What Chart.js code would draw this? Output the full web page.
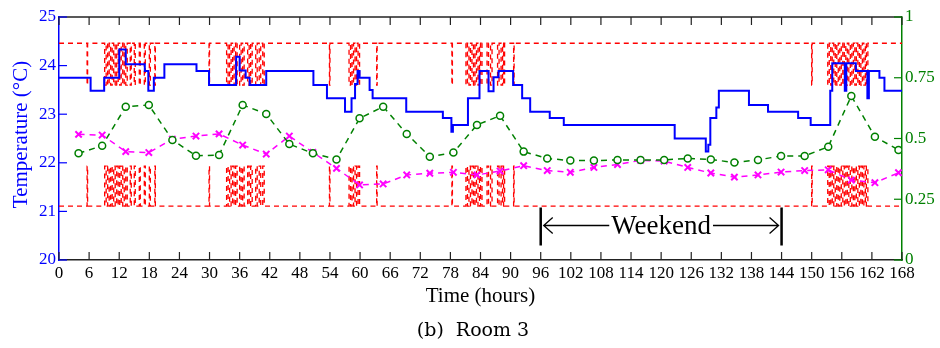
<!DOCTYPE html>
<html>
<head>
<meta charset="utf-8">
<script src="https://cdn.jsdelivr.net/npm/chart.js@4/dist/chart.umd.min.js"></script>
<style>
html, body { margin: 0; padding: 0; background: #fff; }
#wrap { width: 940px; height: 348px; }
</style>
</head>
<body>
<div id="wrap"><canvas id="chart_room3" width="940" height="348"></canvas></div>
<script>
// hours at which the comfort band switches to the tight (occupied) limits and back
var occStart = [5.6, 9.1, 9.7, 10.3, 10.9, 11.5, 12.1, 12.7, 13.3, 14.2, 15.0, 16.0, 17.0, 18.0, 19.1,
    29.9, 33.4, 34.0, 34.6, 35.2, 36.0, 36.6, 37.6, 38.2, 39.2, 39.9, 40.6,
    53.9, 57.8, 58.4, 59.0, 59.6, 63.3,
    78.3, 81.1, 81.7, 82.3, 82.9, 83.5, 84.0, 85.3, 86.0, 87.4, 88.1, 88.6, 90.6,
    150.0, 153.2, 153.8, 154.4, 155.0, 155.6, 156.2, 156.8, 157.4, 158.0, 158.6, 159.2, 159.8, 160.4, 160.9];
var occEnd = [5.7, 9.4, 10.0, 10.6, 11.2, 11.8, 12.4, 13.0, 13.6, 14.4, 15.2, 16.2, 17.2, 18.2, 19.2,
    30.0, 33.7, 34.3, 34.9, 35.5, 36.3, 36.9, 37.9, 38.5, 39.5, 40.2, 40.9,
    54.0, 58.1, 58.7, 59.3, 59.9, 63.4,
    78.4, 81.4, 82.0, 82.6, 83.2, 83.8, 84.3, 85.6, 86.3, 87.7, 88.4, 88.8, 90.7,
    150.1, 153.5, 154.1, 154.7, 155.3, 155.9, 156.5, 157.1, 157.7, 158.3, 158.9, 159.5, 160.1, 160.7, 161.2];
var upperLimits = [24.46, 23.60];   // [unoccupied, occupied]
var lowerLimits = [21.11, 21.93];

// room temperature (stepped)
var tempHours = [0, 6.3, 9.0, 12.0, 13.3, 17.1, 17.8, 18.9, 21.0, 27.4, 29.9, 35.3, 36.0, 37.2, 38.0, 41.3,
    50.7, 53.4, 57.0, 58.3, 59.0, 59.5, 59.9, 61.9, 62.5, 69.2, 76.5, 78.2, 78.5, 81.5, 83.8, 85.6, 86.6, 87.6,
    90.5, 92.3, 93.9, 97.8, 100.6, 122.7, 128.9, 129.4, 129.8, 131.0, 131.5, 137.5, 141.3, 147.3, 149.8,
    153.7, 154.1, 156.6, 156.9, 158.8, 161.1, 161.4, 163.5, 164.5, 168];
var tempValues = [23.75, 23.48, 23.75, 24.33, 24.03, 23.89, 23.48, 23.75, 24.03, 23.89, 23.60, 24.18, 23.90, 23.75, 23.60, 23.89,
    23.60, 23.33, 23.05, 23.33, 23.62, 23.89, 23.75, 23.50, 23.33, 23.05, 22.92, 22.64, 22.78, 23.33, 23.89, 23.47, 23.76, 23.89,
    23.60, 23.33, 23.05, 22.92, 22.78, 22.50, 22.23, 22.37, 22.92, 23.14, 23.48, 23.19, 23.05, 22.92, 22.78,
    23.48, 24.05, 23.48, 24.05, 23.89, 23.33, 23.89, 23.75, 23.48, 23.48];

// sampled series on the right axis
var sampleHours = [3.9, 8.6, 13.3, 17.9, 22.6, 27.3, 31.9, 36.6, 41.3, 45.9, 50.6, 55.3, 59.9, 64.6, 69.3, 73.9,
    78.6, 83.3, 87.9, 92.6, 97.3, 101.9, 106.6, 111.3, 115.9, 120.6, 125.3, 129.9, 134.6, 139.3, 143.9, 148.6,
    153.3, 157.9, 162.6, 167.3];
var greenValues = [0.439, 0.470, 0.631, 0.638, 0.494, 0.429, 0.432, 0.638, 0.601, 0.477, 0.439, 0.414, 0.583, 0.631, 0.519, 0.425,
    0.442, 0.556, 0.594, 0.446, 0.418, 0.409, 0.409, 0.412, 0.412, 0.412, 0.418, 0.414, 0.401, 0.412, 0.428, 0.428,
    0.466, 0.675, 0.507, 0.453];
var magentaValues = [0.517, 0.514, 0.446, 0.442, 0.497, 0.510, 0.519, 0.473, 0.436, 0.510, 0.443, 0.377, 0.309, 0.313, 0.350, 0.357,
    0.361, 0.350, 0.366, 0.388, 0.368, 0.361, 0.381, 0.393, 0.410, 0.407, 0.381, 0.358, 0.341, 0.350, 0.362, 0.368,
    0.371, 0.329, 0.318, 0.359];

var rightTicks = [0, 0.25, 0.5, 0.75, 1];
var weekendHours = [96, 144];
var weekendLabel = 'Weekend';

function boundPoints(limits) {
    var pts = [{x: 0, y: limits[0]}];
    for (var i = 0; i < occStart.length; i++) {
        pts.push({x: occStart[i], y: limits[1]});
        pts.push({x: occEnd[i], y: limits[0]});
    }
    pts.push({x: 168, y: limits[0]});
    return pts;
}
function zipPoints(xs, ys) {
    return xs.map(function (x, i) { return {x: x, y: ys[i]}; });
}

var serif = '"Liberation Serif", "Times New Roman", serif';
var BLUE = '#0000ff', GREEN = '#008000', RED = '#ff0000', MAGENTA = '#ff00ff';

var chart_room3 = new Chart(document.getElementById('chart_room3'), {
    type: 'line',
    data: {
        datasets: [
            {
                label: 'Temperature',
                data: zipPoints(tempHours, tempValues),
                yAxisID: 'y',
                stepped: true,
                borderColor: BLUE,
                borderWidth: 2,
                pointRadius: 0,
                order: 0
            },
            {
                label: 'green',
                data: zipPoints(sampleHours, greenValues),
                yAxisID: 'y2',
                borderColor: GREEN,
                borderWidth: 1.5,
                borderDash: [6, 5],
                pointStyle: 'circle',
                pointRadius: 3.5,
                pointBorderWidth: 1.5,
                pointBorderColor: GREEN,
                pointBackgroundColor: '#fff',
                order: 1
            },
            {
                label: 'magenta',
                data: zipPoints(sampleHours, magentaValues),
                yAxisID: 'y2',
                borderColor: MAGENTA,
                borderWidth: 1.5,
                borderDash: [6, 5],
                pointStyle: 'crossRot',
                pointRadius: 4.5,
                pointBorderWidth: 2,
                pointBorderColor: MAGENTA,
                order: 1
            },
            {
                label: 'upper',
                data: boundPoints(upperLimits),
                yAxisID: 'y',
                stepped: true,
                borderColor: RED,
                borderWidth: 1.3,
                borderDash: [5, 4],
                pointRadius: 0,
                order: 2
            },
            {
                label: 'lower',
                data: boundPoints(lowerLimits),
                yAxisID: 'y',
                stepped: true,
                borderColor: RED,
                borderWidth: 1.3,
                borderDash: [5, 4],
                pointRadius: 0,
                order: 2
            }
        ]
    },
    options: {
        animation: false,
        responsive: false,
        layout: { padding: { top: 17, left: 0, right: 0, bottom: 0 } },
        plugins: {
            legend: { display: false },
            tooltip: { enabled: false },
            title: { display: false }
        },
        scales: {
            x: {
                type: 'linear',
                min: 0,
                max: 168,
                afterFit: function (s) { s.height = 88; },
                afterBuildTicks: function (s) {
                    var t = [];
                    for (var v = 0; v <= 168; v += 6) t.push({value: v});
                    s.ticks = t;
                },
                grid: { display: false, drawTicks: false },
                border: { display: true, color: '#222', width: 1.5 },
                ticks: {
                    autoSkip: false, maxRotation: 0, padding: 3, color: '#000',
                    font: { family: serif, size: 17 }
                }
            },
            y: {
                position: 'left',
                min: 20,
                max: 25,
                afterFit: function (s) { s.width = 59; },
                grid: { display: false, drawTicks: false },
                border: { display: true, color: BLUE, width: 1.5 },
                ticks: {
                    stepSize: 1, padding: 3, color: BLUE,
                    font: { family: serif, size: 17 }
                }
            },
            y2: {
                position: 'right',
                min: 0,
                max: 1,
                afterFit: function (s) { s.width = 38; },
                afterBuildTicks: function (s) {
                    s.ticks = rightTicks.map(function (v) { return {value: v}; });
                },
                grid: { display: false, drawTicks: false },
                border: { display: true, color: GREEN, width: 1.5 },
                ticks: {
                    padding: 3, color: GREEN,
                    font: { family: serif, size: 17 },
                    callback: function (v) { return String(v); }
                }
            }
        }
    },
    plugins: [{
        id: 'figureDecor',
        afterDraw: function (chart) {
            var ctx = chart.ctx, a = chart.chartArea;
            var sx = chart.scales.x, sy = chart.scales.y, sr = chart.scales.y2;
            ctx.save();
            // top frame line
            ctx.strokeStyle = '#222';
            ctx.lineWidth = 1.5;
            ctx.beginPath();
            ctx.moveTo(a.left, a.top);
            ctx.lineTo(a.right, a.top);
            ctx.stroke();
            // inward ticks, top and bottom
            ctx.lineWidth = 1.2;
            sx.ticks.forEach(function (t) {
                var px = sx.getPixelForValue(t.value);
                ctx.beginPath();
                ctx.moveTo(px, a.bottom); ctx.lineTo(px, a.bottom - 8);
                ctx.moveTo(px, a.top); ctx.lineTo(px, a.top + 8);
                ctx.stroke();
            });
            ctx.strokeStyle = BLUE;
            sy.ticks.forEach(function (t) {
                var py = sy.getPixelForValue(t.value);
                ctx.beginPath();
                ctx.moveTo(a.left, py); ctx.lineTo(a.left + 8, py);
                ctx.stroke();
            });
            ctx.strokeStyle = GREEN;
            sr.ticks.forEach(function (t) {
                var py = sr.getPixelForValue(t.value);
                ctx.beginPath();
                ctx.moveTo(a.right, py); ctx.lineTo(a.right - 8, py);
                ctx.stroke();
            });

            // weekend marker
            var x0 = sx.getPixelForValue(weekendHours[0]);
            var x1 = sx.getPixelForValue(weekendHours[1]);
            var yTop = sy.getPixelForValue(21.08), yBot = sy.getPixelForValue(20.3);
            var yMid = sy.getPixelForValue(20.71);
            ctx.strokeStyle = '#000';
            ctx.lineWidth = 2.5;
            ctx.beginPath();
            ctx.moveTo(x0, yTop); ctx.lineTo(x0, yBot);
            ctx.moveTo(x1, yTop); ctx.lineTo(x1, yBot);
            ctx.stroke();
            ctx.font = '27px ' + serif;
            ctx.fillStyle = '#000';
            ctx.textAlign = 'center';
            ctx.textBaseline = 'middle';
            var cx = (x0 + x1) / 2;
            ctx.fillText(weekendLabel, cx, yMid + 1);
            var half = ctx.measureText(weekendLabel).width / 2;
            ctx.lineWidth = 1.3;
            ctx.beginPath();
            ctx.moveTo(cx - half - 2, yMid); ctx.lineTo(x0 + 3, yMid);
            ctx.moveTo(x0 + 12, yMid - 8); ctx.lineTo(x0 + 3, yMid); ctx.lineTo(x0 + 12, yMid + 8);
            ctx.moveTo(cx + half + 2, yMid); ctx.lineTo(x1 - 3, yMid);
            ctx.moveTo(x1 - 12, yMid - 8); ctx.lineTo(x1 - 3, yMid); ctx.lineTo(x1 - 12, yMid + 8);
            ctx.stroke();

            // axis titles and caption
            ctx.font = '21px ' + serif;
            ctx.fillText('Time (hours)', (a.left + a.right) / 2, 296);
            ctx.font = '19px "DejaVu Serif", serif';
            ctx.fillText('(b)  Room 3', 473, 331);
            ctx.translate(21, (a.top + a.bottom) / 2 - 4);
            ctx.rotate(-Math.PI / 2);
            ctx.font = '21px ' + serif;
            ctx.fillStyle = BLUE;
            ctx.fillText('Temperature (\u00B0C)', 0, 0);
            ctx.restore();
        }
    }]
});
</script>
</body>
</html>
